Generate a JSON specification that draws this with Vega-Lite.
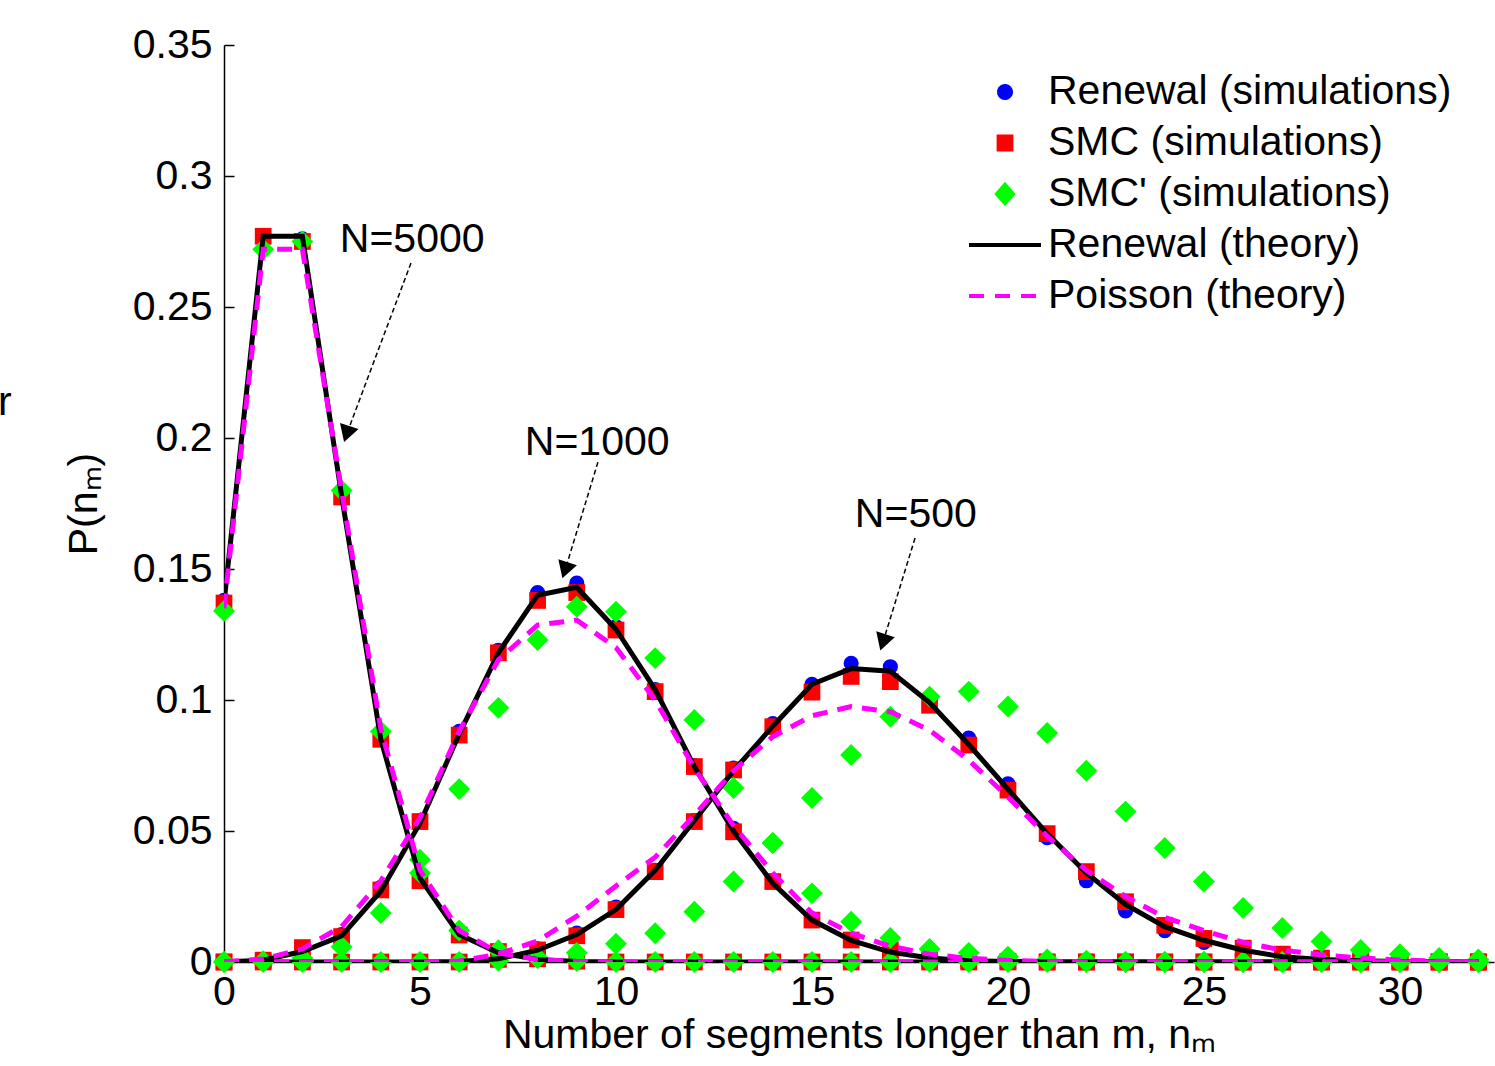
{
  "$schema": "https://vega.github.io/schema/vega-lite/v6.json",
  "width": 1270,
  "height": 917,
  "autosize": {"type": "none"},
  "padding": {"left": 224, "top": 45, "right": 1, "bottom": 104},
  "background": "white",
  "config": {"view": {"stroke": null}, "font": "Liberation Sans"},
  "datasets": {
    "curves": [
      {"N": "5000", "x": 0, "rsim": 0.138, "smc": 0.137, "smcp": 0.134, "rth": 0.137, "poi": 0.135},
      {"N": "5000", "x": 1, "rsim": 0.277, "smc": 0.277, "smcp": 0.272, "rth": 0.277, "poi": 0.272},
      {"N": "5000", "x": 2, "rsim": 0.276, "smc": 0.275, "smcp": 0.275, "rth": 0.277, "poi": 0.272},
      {"N": "5000", "x": 3, "rsim": 0.178, "smc": 0.1775, "smcp": 0.18, "rth": 0.178, "poi": 0.18},
      {"N": "5000", "x": 4, "rsim": 0.086, "smc": 0.085, "smcp": 0.088, "rth": 0.085, "poi": 0.089},
      {"N": "5000", "x": 5, "rsim": 0.032, "smc": 0.031, "smcp": 0.034, "rth": 0.032, "poi": 0.035},
      {"N": "5000", "x": 6, "rsim": 0.011, "smc": 0.0103, "smcp": 0.012, "rth": 0.0105, "poi": 0.012},
      {"N": "5000", "x": 7, "rsim": 0.004, "smc": 0.004, "smcp": 0.0045, "rth": 0.0035, "poi": 0.0035},
      {"N": "5000", "x": 8, "rsim": 0.0012, "smc": 0.0012, "smcp": 0.0015, "rth": 0.001, "poi": 0.0009},
      {"N": "5000", "x": 9, "rsim": 0.0003, "smc": 0.0003, "smcp": 0.0004, "rth": 0.0002, "poi": 0.0002},
      {"N": "5000", "x": 10, "rsim": 0, "smc": 0, "smcp": 0, "rth": 0, "poi": 0},
      {"N": "5000", "x": 11, "rsim": 0, "smc": 0, "smcp": 0, "rth": 0, "poi": 0},
      {"N": "5000", "x": 12, "rsim": 0, "smc": 0, "smcp": 0, "rth": 0, "poi": 0},
      {"N": "5000", "x": 13, "rsim": 0, "smc": 0, "smcp": 0, "rth": 0, "poi": 0},
      {"N": "5000", "x": 14, "rsim": 0, "smc": 0, "smcp": 0, "rth": 0, "poi": 0},
      {"N": "5000", "x": 15, "rsim": 0, "smc": 0, "smcp": 0, "rth": 0, "poi": 0},
      {"N": "5000", "x": 16, "rsim": 0, "smc": 0, "smcp": 0, "rth": 0, "poi": 0},
      {"N": "5000", "x": 17, "rsim": 0, "smc": 0, "smcp": 0, "rth": 0, "poi": 0},
      {"N": "5000", "x": 18, "rsim": 0, "smc": 0, "smcp": 0, "rth": 0, "poi": 0},
      {"N": "5000", "x": 19, "rsim": 0, "smc": 0, "smcp": 0, "rth": 0, "poi": 0},
      {"N": "5000", "x": 20, "rsim": 0, "smc": 0, "smcp": 0, "rth": 0, "poi": 0},
      {"N": "5000", "x": 21, "rsim": 0, "smc": 0, "smcp": 0, "rth": 0, "poi": 0},
      {"N": "5000", "x": 22, "rsim": 0, "smc": 0, "smcp": 0, "rth": 0, "poi": 0},
      {"N": "5000", "x": 23, "rsim": 0, "smc": 0, "smcp": 0, "rth": 0, "poi": 0},
      {"N": "5000", "x": 24, "rsim": 0, "smc": 0, "smcp": 0, "rth": 0, "poi": 0},
      {"N": "5000", "x": 25, "rsim": 0, "smc": 0, "smcp": 0, "rth": 0, "poi": 0},
      {"N": "5000", "x": 26, "rsim": 0, "smc": 0, "smcp": 0, "rth": 0, "poi": 0},
      {"N": "5000", "x": 27, "rsim": 0, "smc": 0, "smcp": 0, "rth": 0, "poi": 0},
      {"N": "5000", "x": 28, "rsim": 0, "smc": 0, "smcp": 0, "rth": 0, "poi": 0},
      {"N": "5000", "x": 29, "rsim": 0, "smc": 0, "smcp": 0, "rth": 0, "poi": 0},
      {"N": "5000", "x": 30, "rsim": 0, "smc": 0, "smcp": 0, "rth": 0, "poi": 0},
      {"N": "5000", "x": 31, "rsim": 0, "smc": 0, "smcp": 0, "rth": 0, "poi": 0},
      {"N": "5000", "x": 32, "rsim": 0, "smc": 0, "smcp": 0, "rth": 0, "poi": 0},
      {"N": "1000", "x": 0, "rsim": 0, "smc": 0, "smcp": 0, "rth": 0, "poi": 0.0001},
      {"N": "1000", "x": 1, "rsim": 0.0008, "smc": 0.0007, "smcp": 0.0003, "rth": 0.0007, "poi": 0.0011},
      {"N": "1000", "x": 2, "rsim": 0.0055, "smc": 0.0055, "smcp": 0.0015, "rth": 0.004, "poi": 0.005},
      {"N": "1000", "x": 3, "rsim": 0.0105, "smc": 0.0097, "smcp": 0.0058, "rth": 0.01, "poi": 0.0135},
      {"N": "1000", "x": 4, "rsim": 0.0285, "smc": 0.0275, "smcp": 0.0187, "rth": 0.027, "poi": 0.031},
      {"N": "1000", "x": 5, "rsim": 0.054, "smc": 0.0536, "smcp": 0.039, "rth": 0.053, "poi": 0.055},
      {"N": "1000", "x": 6, "rsim": 0.088, "smc": 0.0866, "smcp": 0.066, "rth": 0.087, "poi": 0.088},
      {"N": "1000", "x": 7, "rsim": 0.119, "smc": 0.118, "smcp": 0.097, "rth": 0.118, "poi": 0.1153},
      {"N": "1000", "x": 8, "rsim": 0.141, "smc": 0.138, "smcp": 0.1229, "rth": 0.14, "poi": 0.1286},
      {"N": "1000", "x": 9, "rsim": 0.1446, "smc": 0.141, "smcp": 0.1356, "rth": 0.143, "poi": 0.1305},
      {"N": "1000", "x": 10, "rsim": 0.128, "smc": 0.1267, "smcp": 0.1337, "rth": 0.127, "poi": 0.12},
      {"N": "1000", "x": 11, "rsim": 0.104, "smc": 0.1032, "smcp": 0.116, "rth": 0.104, "poi": 0.1},
      {"N": "1000", "x": 12, "rsim": 0.075, "smc": 0.0746, "smcp": 0.0924, "rth": 0.0746, "poi": 0.074},
      {"N": "1000", "x": 13, "rsim": 0.051, "smc": 0.0497, "smcp": 0.0664, "rth": 0.05, "poi": 0.052},
      {"N": "1000", "x": 14, "rsim": 0.031, "smc": 0.0307, "smcp": 0.0454, "rth": 0.03, "poi": 0.034},
      {"N": "1000", "x": 15, "rsim": 0.016, "smc": 0.016, "smcp": 0.0262, "rth": 0.016, "poi": 0.0187},
      {"N": "1000", "x": 16, "rsim": 0.0085, "smc": 0.0084, "smcp": 0.0154, "rth": 0.0082, "poi": 0.011},
      {"N": "1000", "x": 17, "rsim": 0.004, "smc": 0.0046, "smcp": 0.0092, "rth": 0.0038, "poi": 0.006},
      {"N": "1000", "x": 18, "rsim": 0.0015, "smc": 0.0015, "smcp": 0.005, "rth": 0.0015, "poi": 0.003},
      {"N": "1000", "x": 19, "rsim": 0.0005, "smc": 0.0005, "smcp": 0.0035, "rth": 0.0005, "poi": 0.0014},
      {"N": "1000", "x": 20, "rsim": 0.0002, "smc": 0.0002, "smcp": 0.002, "rth": 0.0002, "poi": 0.0006},
      {"N": "1000", "x": 21, "rsim": 0, "smc": 0, "smcp": 0.001, "rth": 0, "poi": 0.0002},
      {"N": "1000", "x": 22, "rsim": 0, "smc": 0, "smcp": 0.0005, "rth": 0, "poi": 0},
      {"N": "1000", "x": 23, "rsim": 0, "smc": 0, "smcp": 0, "rth": 0, "poi": 0},
      {"N": "1000", "x": 24, "rsim": 0, "smc": 0, "smcp": 0, "rth": 0, "poi": 0},
      {"N": "1000", "x": 25, "rsim": 0, "smc": 0, "smcp": 0, "rth": 0, "poi": 0},
      {"N": "1000", "x": 26, "rsim": 0, "smc": 0, "smcp": 0, "rth": 0, "poi": 0},
      {"N": "1000", "x": 27, "rsim": 0, "smc": 0, "smcp": 0, "rth": 0, "poi": 0},
      {"N": "1000", "x": 28, "rsim": 0, "smc": 0, "smcp": 0, "rth": 0, "poi": 0},
      {"N": "1000", "x": 29, "rsim": 0, "smc": 0, "smcp": 0, "rth": 0, "poi": 0},
      {"N": "1000", "x": 30, "rsim": 0, "smc": 0, "smcp": 0, "rth": 0, "poi": 0},
      {"N": "1000", "x": 31, "rsim": 0, "smc": 0, "smcp": 0, "rth": 0, "poi": 0},
      {"N": "1000", "x": 32, "rsim": 0, "smc": 0, "smcp": 0, "rth": 0, "poi": 0},
      {"N": "500", "x": 0, "rsim": 0, "smc": 0, "smcp": 0, "rth": 0, "poi": 0},
      {"N": "500", "x": 1, "rsim": 0, "smc": 0, "smcp": 0, "rth": 0, "poi": 0},
      {"N": "500", "x": 2, "rsim": 0, "smc": 0, "smcp": 0, "rth": 0, "poi": 0},
      {"N": "500", "x": 3, "rsim": 0, "smc": 0, "smcp": 0, "rth": 0, "poi": 0},
      {"N": "500", "x": 4, "rsim": 0, "smc": 0, "smcp": 0, "rth": 0, "poi": 0},
      {"N": "500", "x": 5, "rsim": 0, "smc": 0, "smcp": 0, "rth": 0, "poi": 0},
      {"N": "500", "x": 6, "rsim": 0, "smc": 0, "smcp": 0, "rth": 0.0002, "poi": 0.0004},
      {"N": "500", "x": 7, "rsim": 0.001, "smc": 0.001, "smcp": 0.0005, "rth": 0.0012, "poi": 0.003},
      {"N": "500", "x": 8, "rsim": 0.005, "smc": 0.0046, "smcp": 0.0015, "rth": 0.0045, "poi": 0.008},
      {"N": "500", "x": 9, "rsim": 0.011, "smc": 0.01, "smcp": 0.0035, "rth": 0.0105, "poi": 0.0175},
      {"N": "500", "x": 10, "rsim": 0.021, "smc": 0.02, "smcp": 0.007, "rth": 0.02, "poi": 0.029},
      {"N": "500", "x": 11, "rsim": 0.035, "smc": 0.0345, "smcp": 0.011, "rth": 0.035, "poi": 0.04},
      {"N": "500", "x": 12, "rsim": 0.054, "smc": 0.0536, "smcp": 0.0192, "rth": 0.054, "poi": 0.056},
      {"N": "500", "x": 13, "rsim": 0.074, "smc": 0.0733, "smcp": 0.0307, "rth": 0.073, "poi": 0.073},
      {"N": "500", "x": 14, "rsim": 0.091, "smc": 0.0898, "smcp": 0.0454, "rth": 0.09, "poi": 0.086},
      {"N": "500", "x": 15, "rsim": 0.106, "smc": 0.103, "smcp": 0.0626, "rth": 0.106, "poi": 0.094},
      {"N": "500", "x": 16, "rsim": 0.114, "smc": 0.109, "smcp": 0.079, "rth": 0.112, "poi": 0.0975},
      {"N": "500", "x": 17, "rsim": 0.1127, "smc": 0.107, "smcp": 0.0936, "rth": 0.111, "poi": 0.0955},
      {"N": "500", "x": 18, "rsim": 0.1, "smc": 0.098, "smcp": 0.1013, "rth": 0.099, "poi": 0.0885},
      {"N": "500", "x": 19, "rsim": 0.0855, "smc": 0.0828, "smcp": 0.1032, "rth": 0.083, "poi": 0.077},
      {"N": "500", "x": 20, "rsim": 0.068, "smc": 0.0656, "smcp": 0.0975, "rth": 0.066, "poi": 0.063},
      {"N": "500", "x": 21, "rsim": 0.0475, "smc": 0.049, "smcp": 0.0874, "rth": 0.049, "poi": 0.048},
      {"N": "500", "x": 22, "rsim": 0.031, "smc": 0.0345, "smcp": 0.073, "rth": 0.034, "poi": 0.035},
      {"N": "500", "x": 23, "rsim": 0.0195, "smc": 0.023, "smcp": 0.0574, "rth": 0.022, "poi": 0.025},
      {"N": "500", "x": 24, "rsim": 0.012, "smc": 0.014, "smcp": 0.0435, "rth": 0.0135, "poi": 0.017},
      {"N": "500", "x": 25, "rsim": 0.0075, "smc": 0.009, "smcp": 0.0307, "rth": 0.0083, "poi": 0.012},
      {"N": "500", "x": 26, "rsim": 0.0045, "smc": 0.0053, "smcp": 0.0206, "rth": 0.0045, "poi": 0.0075},
      {"N": "500", "x": 27, "rsim": 0.002, "smc": 0.003, "smcp": 0.013, "rth": 0.002, "poi": 0.0045},
      {"N": "500", "x": 28, "rsim": 0.001, "smc": 0.0015, "smcp": 0.0078, "rth": 0.001, "poi": 0.0028},
      {"N": "500", "x": 29, "rsim": 0.0005, "smc": 0.0005, "smcp": 0.0046, "rth": 0.0005, "poi": 0.0015},
      {"N": "500", "x": 30, "rsim": 0.0002, "smc": 0.0002, "smcp": 0.003, "rth": 0.0002, "poi": 0.0008},
      {"N": "500", "x": 31, "rsim": 0, "smc": 0, "smcp": 0.0015, "rth": 0.0001, "poi": 0.0003},
      {"N": "500", "x": 32, "rsim": 0, "smc": 0, "smcp": 0.001, "rth": 0, "poi": 0.0001}
    ],
    "labels": [
      {"label": "N=5000", "tx": 4.8, "ty": 0.2756},
      {"label": "N=1000", "tx": 9.52, "ty": 0.198},
      {"label": "N=500", "tx": 17.65, "ty": 0.1706},
      {"label": "r", "tx": -5.59, "ty": 0.2134}
    ],
    "arrows": [
      {"N": "5000", "x1": 4.77, "y1": 0.2668, "x2": 3.13, "y2": 0.2015},
      {"N": "1000", "x1": 9.54, "y1": 0.1908, "x2": 8.7, "y2": 0.1495},
      {"N": "500", "x1": 17.63, "y1": 0.1618, "x2": 16.81, "y2": 0.122}
    ]
  },
  "layer": [
    {
      "data": {"name": "curves"},
      "transform": [
        {"fold": ["rsim", "smc", "smcp", "rth", "poi"], "as": ["series", "p"]},
        {"filter": "datum.x == 0 && datum.N == '5000'"}
      ],
      "mark": {"type": "point", "filled": true, "opacity": 0, "clip": true},
      "encoding": {
        "x": {
          "field": "x", "type": "quantitative",
          "scale": {"domain": [0, 32.4], "nice": false, "zero": false},
          "axis": {
            "title": "Number of segments longer than m, nₘ",
            "values": [0, 5, 10, 15, 20, 25, 30], "format": "d",
            "grid": false, "domainColor": "black", "domainWidth": 1.5,
            "tickColor": "black", "tickWidth": 1.5, "tickSize": -10,
            "labelFont": "Liberation Sans", "labelFontSize": 41, "labelColor": "black",
            "labelPadding": 20, "labelFlush": false, "labelOverlap": false,
            "titleFont": "Liberation Sans", "titleFontSize": 41, "titleFontWeight": "normal",
            "titleColor": "black", "titlePadding": 3
          }
        },
        "y": {
          "field": "p", "type": "quantitative",
          "scale": {"domain": [0, 0.35], "nice": false},
          "axis": {
            "title": "P(nₘ)",
            "values": [0, 0.05, 0.1, 0.15, 0.2, 0.25, 0.3, 0.35], "format": ".2~f",
            "grid": false, "domainColor": "black", "domainWidth": 1.5,
            "tickColor": "black", "tickWidth": 1.5, "tickSize": -10,
            "labelFont": "Liberation Sans", "labelFontSize": 41, "labelColor": "black",
            "labelPadding": 22, "labelFlush": false, "labelOverlap": false,
            "titleFont": "Liberation Sans", "titleFontSize": 41, "titleFontWeight": "normal",
            "titleColor": "black", "titlePadding": 27
          }
        },
        "fill": {
          "field": "series", "type": "nominal",
          "scale": {"domain": ["rsim", "smc", "smcp", "rth", "poi"], "range": ["#0000ff", "#ff0000", "#00ff00", "#000000", "#ff00ff"]},
          "legend": {
            "orient": "none", "legendX": 759, "legendY": 25, "title": null,
            "labelFont": "Liberation Sans", "labelFontSize": 41, "labelColor": "black",
            "labelExpr": "datum.value == 'rsim' ? 'Renewal (simulations)' : datum.value == 'smc' ? 'SMC (simulations)' : datum.value == 'smcp' ? \"SMC' (simulations)\" : datum.value == 'rth' ? 'Renewal (theory)' : 'Poisson (theory)'",
            "symbolSize": 1600, "rowPadding": 9, "labelOffset": 21, "labelLimit": 0,
            "symbolStrokeWidth": 4, "symbolOpacity": 1
          }
        },
        "stroke": {
          "field": "series", "type": "nominal",
          "scale": {"domain": ["rsim", "smc", "smcp", "rth", "poi"], "range": ["#0000ff", "#ff0000", "#00ff00", "#000000", "#ff00ff"]},
          "legend": {
            "orient": "none", "legendX": 759, "legendY": 25, "title": null,
            "labelFont": "Liberation Sans", "labelFontSize": 41, "labelColor": "black",
            "labelExpr": "datum.value == 'rsim' ? 'Renewal (simulations)' : datum.value == 'smc' ? 'SMC (simulations)' : datum.value == 'smcp' ? \"SMC' (simulations)\" : datum.value == 'rth' ? 'Renewal (theory)' : 'Poisson (theory)'",
            "symbolSize": 1600, "rowPadding": 9, "labelOffset": 21, "labelLimit": 0,
            "symbolStrokeWidth": 4, "symbolOpacity": 1
          }
        },
        "shape": {
          "field": "series", "type": "nominal",
          "scale": {
            "domain": ["rsim", "smc", "smcp", "rth", "poi"],
            "range": [
              "M0,-0.3A0.3,0.3,0,1,1,0,0.3A0.3,0.3,0,1,1,0,-0.3Z",
              "M-0.32,-0.32H0.32V0.32H-0.32Z",
              "M0,-0.46L0.4,0L0,0.46L-0.4,0Z",
              "M-1.8,0H1.8",
              "M-1.8,0H1.8"
            ]
          },
          "legend": {
            "orient": "none", "legendX": 759, "legendY": 25, "title": null,
            "labelFont": "Liberation Sans", "labelFontSize": 41, "labelColor": "black",
            "labelExpr": "datum.value == 'rsim' ? 'Renewal (simulations)' : datum.value == 'smc' ? 'SMC (simulations)' : datum.value == 'smcp' ? \"SMC' (simulations)\" : datum.value == 'rth' ? 'Renewal (theory)' : 'Poisson (theory)'",
            "symbolSize": 1600, "rowPadding": 9, "labelOffset": 21, "labelLimit": 0,
            "symbolStrokeWidth": 4, "symbolOpacity": 1
          }
        },
        "strokeDash": {
          "field": "series", "type": "nominal",
          "scale": {"domain": ["rsim", "smc", "smcp", "rth", "poi"], "range": [[1, 0], [1, 0], [1, 0], [1, 0], [15, 11]]},
          "legend": {
            "orient": "none", "legendX": 759, "legendY": 25, "title": null,
            "labelFont": "Liberation Sans", "labelFontSize": 41, "labelColor": "black",
            "labelExpr": "datum.value == 'rsim' ? 'Renewal (simulations)' : datum.value == 'smc' ? 'SMC (simulations)' : datum.value == 'smcp' ? \"SMC' (simulations)\" : datum.value == 'rth' ? 'Renewal (theory)' : 'Poisson (theory)'",
            "symbolSize": 1600, "rowPadding": 9, "labelOffset": 21, "labelLimit": 0,
            "symbolStrokeWidth": 4, "symbolOpacity": 1
          }
        }
      }
    },
    {
      "data": {"name": "curves"},
      "transform": [
        {"fold": ["rsim"], "as": ["series", "p"]}
      ],
      "mark": {"type": "point", "shape": "circle", "filled": true, "color": "#0000ff", "size": 230, "opacity": 1, "clip": false},
      "encoding": {
        "x": {"field": "x", "type": "quantitative"},
        "y": {"field": "p", "type": "quantitative"}
      }
    },
    {
      "data": {"name": "curves"},
      "transform": [
        {"fold": ["smc"], "as": ["series", "p"]}
      ],
      "mark": {"type": "point", "shape": "square", "filled": true, "color": "#ff0000", "size": 280, "opacity": 1, "clip": false},
      "encoding": {
        "x": {"field": "x", "type": "quantitative"},
        "y": {"field": "p", "type": "quantitative"}
      }
    },
    {
      "data": {"name": "curves"},
      "transform": [
        {"fold": ["smcp"], "as": ["series", "p"]}
      ],
      "mark": {"type": "point", "shape": "diamond", "filled": true, "color": "#00ff00", "size": 480, "opacity": 1, "clip": false},
      "encoding": {
        "x": {"field": "x", "type": "quantitative"},
        "y": {"field": "p", "type": "quantitative"}
      }
    },
    {
      "data": {"name": "curves"},
      "transform": [
        {"fold": ["rth"], "as": ["series", "p"]}
      ],
      "mark": {"type": "line", "strokeWidth": 5, "clip": true, "color": "#000000"},
      "encoding": {
        "x": {"field": "x", "type": "quantitative"},
        "y": {"field": "p", "type": "quantitative"},
        "detail": {"field": "N", "type": "nominal"}
      }
    },
    {
      "data": {"name": "curves"},
      "transform": [
        {"fold": ["poi"], "as": ["series", "p"]}
      ],
      "mark": {"type": "line", "strokeWidth": 5, "clip": true, "color": "#ff00ff", "strokeDash": [15, 10]},
      "encoding": {
        "x": {"field": "x", "type": "quantitative"},
        "y": {"field": "p", "type": "quantitative"},
        "detail": {"field": "N", "type": "nominal"}
      }
    },
    {
      "data": {"name": "arrows"},
      "mark": {"type": "rule", "color": "black", "strokeWidth": 1.5, "strokeDash": [5, 3]},
      "encoding": {
        "x": {"field": "x1", "type": "quantitative"},
        "y": {"field": "y1", "type": "quantitative"},
        "x2": {"field": "x2"},
        "y2": {"field": "y2"}
      }
    },
    {
      "data": {"name": "arrows"},
      "mark": {"type": "point", "shape": "triangle-down", "filled": true, "color": "black", "opacity": 1, "size": 380, "angle": 18},
      "encoding": {
        "x": {"field": "x2", "type": "quantitative"},
        "y": {"field": "y2", "type": "quantitative"}
      }
    },
    {
      "data": {"name": "labels"},
      "mark": {"type": "text", "font": "Liberation Sans", "fontSize": 41, "color": "black", "align": "center", "baseline": "middle"},
      "encoding": {
        "x": {"field": "tx", "type": "quantitative"},
        "y": {"field": "ty", "type": "quantitative"},
        "text": {"field": "label"}
      }
    }
  ]
}
